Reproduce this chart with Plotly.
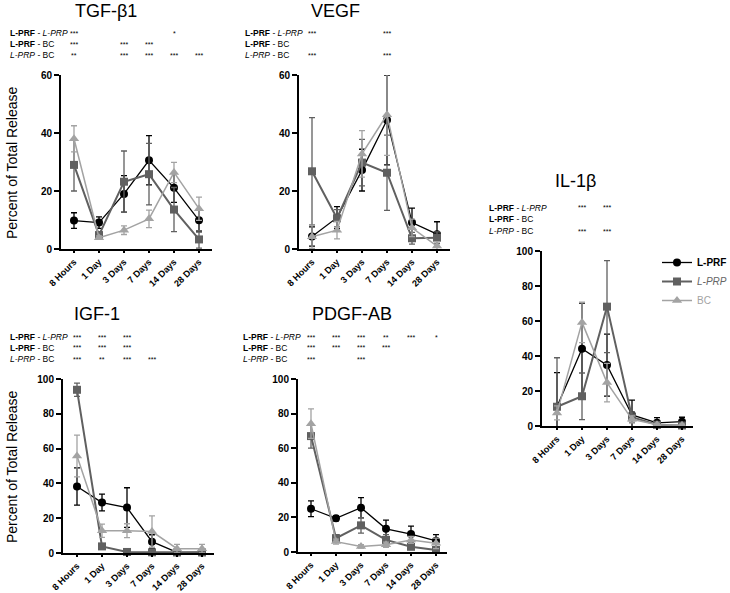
import plotly.graph_objects as go

W, H = 730, 593

categories = ["8 Hours", "1 Day", "3 Days", "7 Days", "14 Days", "28 Days"]
series_names = ["<b>L-PRF</b>", "<span style='color:#666666'><i>L-PRP</i></span>",
                "<span style='color:#a3a3a3'>BC</span>"]
row_labels = ["<b>L-PRF</b> - <i>L-PRP</i>", "<b>L-PRF</b> - BC", "<i>L-PRP</i> - BC"]

# ---- TGF-beta1 ----
tgf_lprf = [9.8, 9.1, 19.0, 30.6, 21.1, 9.9]
tgf_lprf_err = [2.7, 2.0, 6.3, 8.5, 5.0, 4.0]
tgf_lprp = [29.0, 4.8, 23.2, 25.8, 13.6, 3.3]
tgf_lprp_err = [9.0, 1.2, 10.6, 10.6, 7.6, 3.0]
tgf_bc = [38.0, 3.9, 6.5, 10.4, 26.4, 13.9]
tgf_bc_err = [4.5, 0.6, 1.5, 3.0, 3.5, 4.0]
tgf_sig = [["***", "", "", "", "*", ""],
           ["***", "", "***", "***", "", ""],
           ["**", "", "***", "***", "***", "***"]]

# ---- VEGF ----
vegf_lprf = [4.3, 10.8, 27.2, 44.5, 9.1, 5.1]
vegf_lprf_err = [3.3, 3.8, 7.2, 15.5, 5.0, 4.3]
vegf_lprp = [26.8, 10.6, 29.8, 26.3, 3.7, 3.9]
vegf_lprp_err = [18.5, 3.0, 8.0, 13.0, 2.0, 2.0]
vegf_bc = [4.2, 6.5, 32.8, 46.3, 7.3, 1.0]
vegf_bc_err = [4.0, 3.0, 8.0, 14.0, 3.0, 1.5]
vegf_sig = [["***", "", "", "***", "", ""],
            ["", "", "", "", "", ""],
            ["***", "", "", "***", "", ""]]

# ---- IGF-1 ----
igf_lprf = [38.2, 29.0, 26.1, 6.5, 0.4, 0.5]
igf_lprf_err = [10.7, 4.8, 11.4, 4.0, 0.5, 0.5]
igf_lprp = [93.8, 3.8, 0.6, 0.4, 0.3, 0.3]
igf_lprp_err = [3.8, 1.0, 0.5, 0.3, 0.3, 0.3]
igf_bc = [55.8, 12.8, 12.8, 12.3, 2.5, 2.5]
igf_bc_err = [12.0, 3.8, 4.0, 9.0, 2.5, 2.5]
igf_sig = [["***", "***", "***", "", "", ""],
           ["***", "***", "***", "", "", ""],
           ["***", "**", "***", "***", "", ""]]

# ---- PDGF-AB ----
pdgf_lprf = [25.0, 19.5, 25.6, 13.4, 10.4, 6.5]
pdgf_lprf_err = [4.6, 1.5, 5.8, 5.0, 4.5, 3.5]
pdgf_lprp = [67.0, 8.0, 15.4, 7.0, 3.0, 1.2]
pdgf_lprp_err = [7.0, 2.0, 4.5, 3.0, 1.5, 1.0]
pdgf_bc = [74.2, 6.0, 3.2, 4.2, 7.0, 5.0]
pdgf_bc_err = [8.5, 1.5, 1.0, 1.5, 2.0, 3.0]
pdgf_sig = [["***", "***", "***", "**", "***", "*"],
            ["***", "***", "***", "***", "", ""],
            ["***", "", "***", "", "", ""]]

# ---- IL-1beta ----
il_lprf = [11.0, 44.2, 34.8, 6.3, 1.8, 2.5]
il_lprf_err = [19.5, 26.0, 17.7, 8.5, 3.0, 2.5]
il_lprp = [11.0, 17.0, 68.2, 5.0, 0.7, 0.3]
il_lprp_err = [28.0, 13.3, 26.3, 3.0, 1.0, 0.5]
il_bc = [7.5, 59.2, 24.8, 3.8, 0.7, 0.5]
il_bc_err = [4.0, 11.5, 11.0, 2.0, 0.8, 0.5]
il_sig = [["", "***", "***", "", "", ""],
          ["", "", "", "", "", ""],
          ["", "***", "***", "", "", ""]]

FONT = "Liberation Sans, Arial, sans-serif"
colors = ["#000000", "#606060", "#a3a3a3"]
symbols = ["circle", "square", "triangle-up"]
msizes = [8, 8, 9]
lwidths = [1.3, 2.0, 1.5]

def px_x(p):
    return p / W

def px_y(p):
    return (H - p) / H

panels = [
    dict(title="TGF-β1", data=[(tgf_lprf, tgf_lprf_err), (tgf_lprp, tgf_lprp_err), (tgf_bc, tgf_bc_err)],
         sig=tgf_sig, xl=61, xr=212, x0=74, y0=249, ytop=75, ymax=60, dt=20,
         tx=106, ty=11, rows=[33, 44, 55], lx=8, ylab=True),
    dict(title="VEGF", data=[(vegf_lprf, vegf_lprf_err), (vegf_lprp, vegf_lprp_err), (vegf_bc, vegf_bc_err)],
         sig=vegf_sig, xl=299, xr=450, x0=312, y0=249, ytop=75, ymax=60, dt=20,
         tx=335, ty=11, rows=[33, 44, 55], lx=243, ylab=False),
    dict(title="IGF-1", data=[(igf_lprf, igf_lprf_err), (igf_lprp, igf_lprp_err), (igf_bc, igf_bc_err)],
         sig=igf_sig, xl=63, xr=214, x0=77, y0=553, ytop=379, ymax=100, dt=20,
         tx=97, ty=314, rows=[337, 348, 359], lx=8, ylab=True),
    dict(title="PDGF-AB", data=[(pdgf_lprf, pdgf_lprf_err), (pdgf_lprp, pdgf_lprp_err), (pdgf_bc, pdgf_bc_err)],
         sig=pdgf_sig, xl=298, xr=447, x0=311, y0=552, ytop=379, ymax=100, dt=20,
         tx=352, ty=314, rows=[337, 348, 359], lx=241, ylab=False),
    dict(title="IL-1β", data=[(il_lprf, il_lprf_err), (il_lprp, il_lprp_err), (il_bc, il_bc_err)],
         sig=il_sig, xl=542, xr=693, x0=557, y0=426, ytop=251, ymax=100, dt=20,
         tx=575, ty=181, rows=[208, 219.5, 231], lx=487, ylab=False),
]

fig = go.Figure()
annotations = []
layout_axes = {}
xs = list(range(len(categories)))
SP = 25.0

for i, p in enumerate(panels):
    n = i + 1
    xa = "x" if n == 1 else f"x{n}"
    ya = "y" if n == 1 else f"y{n}"
    xkey = "xaxis" if n == 1 else f"xaxis{n}"
    ykey = "yaxis" if n == 1 else f"yaxis{n}"
    r0 = (p["xl"] - p["x0"]) / SP
    r1 = (p["xr"] - p["x0"]) / SP
    layout_axes[xkey] = dict(
        domain=[px_x(p["xl"]), px_x(p["xr"])], range=[r0, r1], anchor=ya,
        tickmode="array", tickvals=xs, ticktext=categories, tickangle=-45,
        showline=True, linecolor="black", linewidth=2, ticks="outside",
        ticklen=2, tickwidth=1.5, tickcolor="black", showgrid=False, zeroline=False,
        automargin=False,
        tickfont=dict(family=FONT, size=9.2, color="black", weight="bold"),
    )
    layout_axes[ykey] = dict(
        domain=[px_y(p["y0"]), px_y(p["ytop"])], range=[0, p["ymax"]], anchor=xa,
        tickmode="linear", tick0=0, dtick=p["dt"],
        showline=True, linecolor="black", linewidth=2, ticks="outside",
        ticklen=5, tickwidth=2, tickcolor="black", showgrid=False, zeroline=False,
        automargin=False,
        tickfont=dict(family=FONT, size=10, color="black", weight="bold"),
    )
    for k, (vals, errs) in enumerate(p["data"]):
        fig.add_trace(go.Scatter(
            x=xs, y=vals, xaxis=xa, yaxis=ya, mode="lines+markers",
            name=series_names[k], legendgroup=str(k), showlegend=(i == 0),
            line=dict(color=colors[k], width=lwidths[k]),
            marker=dict(color=colors[k], symbol=symbols[k], size=msizes[k]),
            error_y=dict(type="data", array=errs, symmetric=True, color=colors[k],
                         thickness=1.3, width=3),
            cliponaxis=False,
        ))
    annotations.append(dict(text=p["title"], x=px_x(p["tx"]), y=px_y(p["ty"]), xref="paper", yref="paper",
                            xanchor="center", yanchor="middle", showarrow=False,
                            font=dict(family=FONT, size=18, color="black")))
    for r, lab in enumerate(row_labels):
        annotations.append(dict(text=lab, x=px_x(p["lx"]), y=px_y(p["rows"][r]), xref="paper", yref="paper",
                                xanchor="left", yanchor="middle", showarrow=False,
                                font=dict(family=FONT, size=8.5, color="black")))
        for c, s in enumerate(p["sig"][r]):
            if s:
                annotations.append(dict(text=s, x=c, y=px_y(p["rows"][r]), xref=xa, yref="paper",
                                        xanchor="center", yanchor="middle", showarrow=False,
                                        font=dict(family=FONT, size=7, color="black")))
    if p["ylab"]:
        annotations.append(dict(text="Percent of Total Release", x=px_x(12),
                                y=px_y((p["y0"] + p["ytop"]) / 2 + 1), xref="paper", yref="paper",
                                xanchor="center", yanchor="middle", textangle=-90, showarrow=False,
                                font=dict(family=FONT, size=14, color="black")))

fig.update_layout(
    width=W, height=H, margin=dict(l=0, r=0, t=0, b=0, autoexpand=False),
    paper_bgcolor="white", plot_bgcolor="white",
    annotations=annotations,
    showlegend=True,
    legend=dict(x=px_x(657), y=px_y(248), xanchor="left", yanchor="top",
                font=dict(family=FONT, size=10, color="black"), itemwidth=30,
                tracegroupgap=0, bgcolor="rgba(0,0,0,0)"),
    **layout_axes,
)

# remove the default 8px page margin so the figure fills the window exactly
fig.write_html("out.html", config={"displayModeBar": False},
               post_script="document.body.style.margin='0px';document.body.style.overflow='hidden';")
